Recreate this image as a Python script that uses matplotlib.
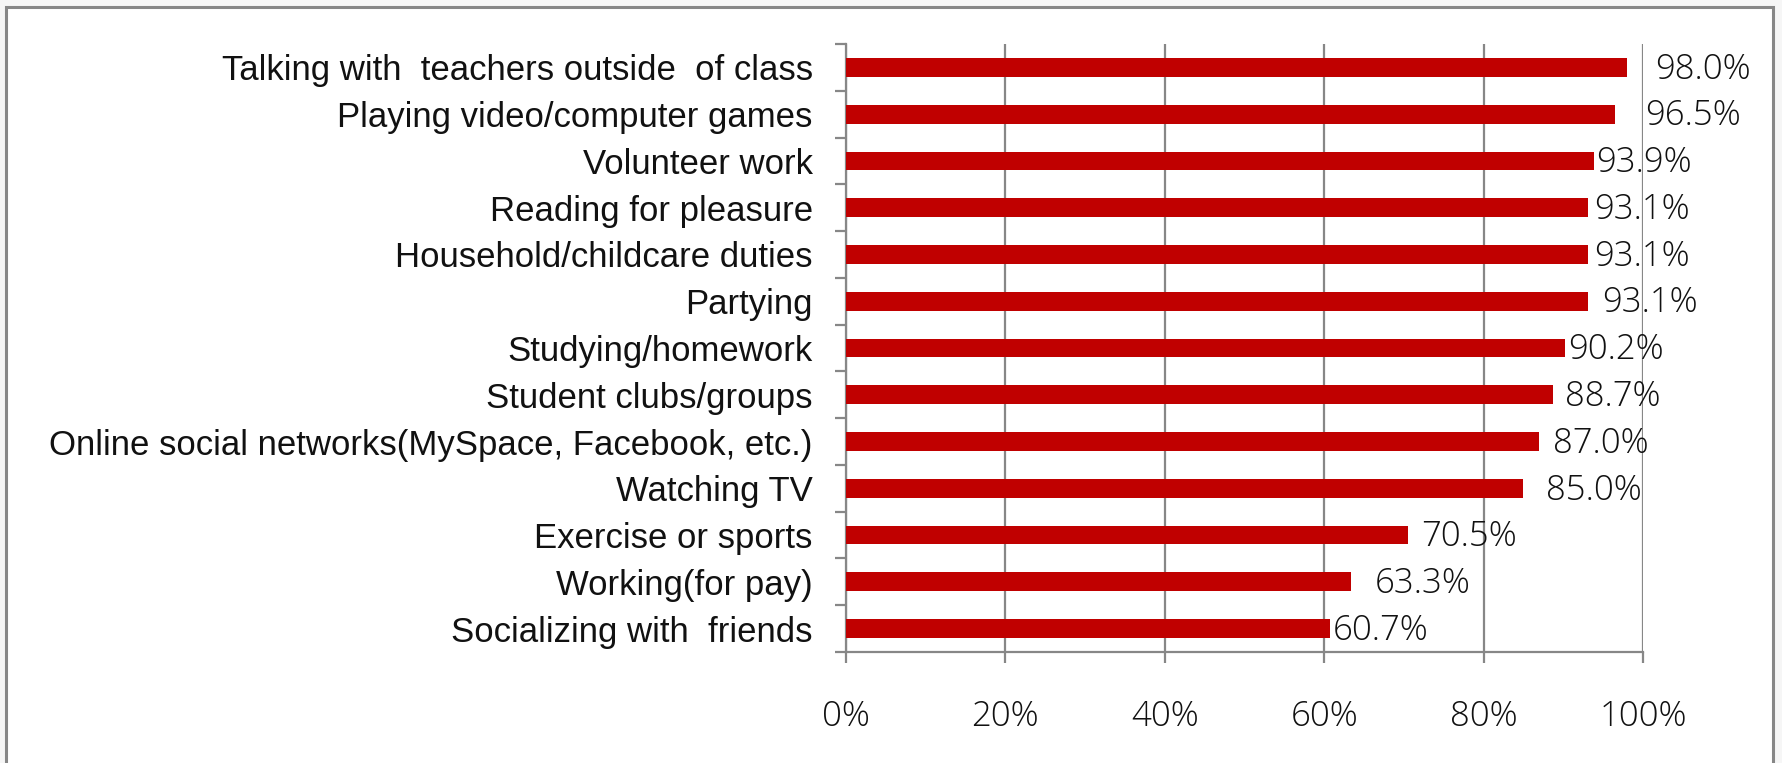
import matplotlib.pyplot as plt
from matplotlib.patches import Rectangle
from matplotlib.ticker import FixedLocator, PercentFormatter
import numpy as np

# ---------------------------------------------------------------------
# Data
# ---------------------------------------------------------------------
activities = [
    "Talking with  teachers outside  of class",
    "Playing video/computer games",
    "Volunteer work",
    "Reading for pleasure",
    "Household/childcare duties",
    "Partying",
    "Studying/homework",
    "Student clubs/groups",
    "Online social networks(MySpace, Facebook, etc.)",
    "Watching TV",
    "Exercise or sports",
    "Working(for pay)",
    "Socializing with  friends",
]
shares = [98.0, 96.5, 93.9, 93.1, 93.1, 93.1, 90.2, 88.7, 87.0, 85.0, 70.5, 63.3, 60.7]
x_ticks = [0, 20, 40, 60, 80, 100]

# label gap to the right of each bar (pixels)
label_gap = [28, 30, 2, 6, 6, 14, 3, 12, 14, 23, 13, 24, 3]

BAR_RED = "#C00000"
AXIS_GRAY = "#878787"
TEXT_COL = "#111111"
NUM_FONT = ["Open Sans", "DejaVu Sans"]
CAT_FONT = ["Liberation Sans", "DejaVu Sans"]

# ---------------------------------------------------------------------
# Figure
# ---------------------------------------------------------------------
W, H = 1783, 763
fig = plt.figure(figsize=(W / 100, H / 100), dpi=100, facecolor="#f6f6f6")

# framed white chart area
frame = Rectangle((6 / W, -0.05), (1773 - 6) / W, 1 - 7 / H + 0.05,
                  transform=fig.transFigure, facecolor="white",
                  edgecolor=AXIS_GRAY, linewidth=2.2, zorder=-5)
fig.patches.append(frame)

ax = fig.add_axes([846 / W, 1 - 652 / H, (1643 - 846) / W, (652 - 44) / H])
ax.set_facecolor("none")
ax.set_zorder(2)

y = np.arange(len(activities))
ax.barh(y, shares, height=0.4, color=BAR_RED, zorder=3)

ax.set_xlim(0, 100)
ax.set_ylim(len(activities) - 0.5, -0.5)

# axes styling
for side in ["top", "right"]:
    ax.spines[side].set_visible(False)
for side in ["left", "bottom"]:
    ax.spines[side].set_color(AXIS_GRAY)
    ax.spines[side].set_linewidth(1.6)

ax.xaxis.set_major_locator(FixedLocator(x_ticks))
ax.xaxis.set_major_formatter(PercentFormatter(decimals=0))
ax.grid(axis="x", color=AXIS_GRAY, linewidth=1.6, zorder=1)
ax.tick_params(axis="x", length=8, width=1.6, color=AXIS_GRAY, pad=26,
               labelsize=25)
for lbl in ax.get_xticklabels():
    lbl.set_family(NUM_FONT)
    lbl.set_fontweight("light")
    lbl.set_color(TEXT_COL)

# category labels centred on the bars, ticks on the boundaries
ax.set_yticks(y)
ax.set_yticklabels(activities, family=CAT_FONT, fontsize=25, color=TEXT_COL)
ax.tick_params(axis="y", which="major", length=0, pad=24)
ax.set_yticks(np.arange(len(activities) + 1) - 0.5, minor=True)
ax.tick_params(axis="y", which="minor", length=8, width=1.6, color=AXIS_GRAY)

# value labels
for yi, val, gap in zip(y, shares, label_gap):
    ax.annotate(f"{val:.1f}%", xy=(val, yi), xytext=(gap, -2),
                textcoords="offset pixels", ha="left", va="center",
                fontsize=25, family=NUM_FONT, fontweight="light",
                color=TEXT_COL, zorder=4)

fig.savefig("out.png", dpi=100, facecolor=fig.get_facecolor())
